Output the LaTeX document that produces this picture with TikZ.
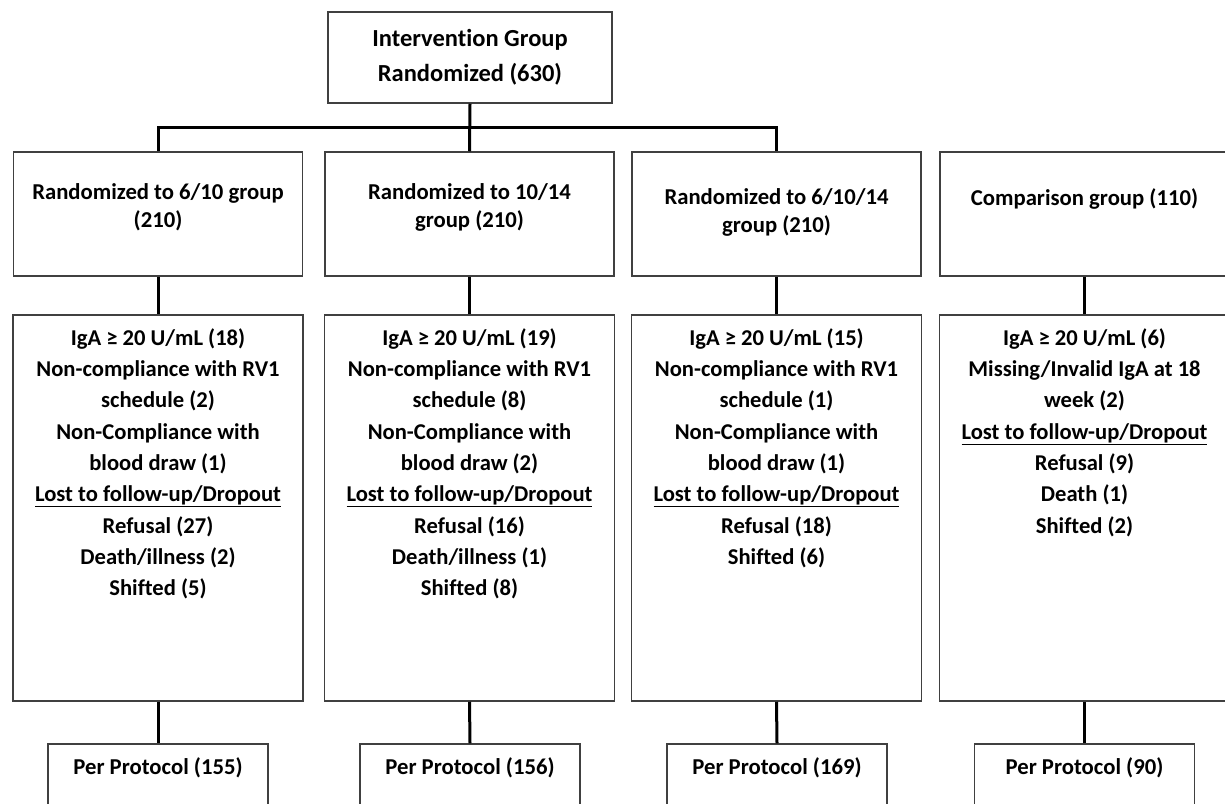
\documentclass[tikz,border=0pt]{standalone}
\usepackage{fontspec}
\setmainfont{Carlito}[Ligatures=NoCommon]
\usepackage{tikz}
\usetikzlibrary{positioning,calc}

\begin{document}
\begin{tikzpicture}[x=1pt, y=-1pt,
    box/.style={draw=black!75, line width=1.5pt, inner sep=0pt},
    head/.style={box, minimum width=289pt, minimum height=124pt},
    detail/.style={box, minimum width=290pt, minimum height=386pt},
    proto/.style={box, minimum width=220pt, minimum height=80pt},
    txt/.style={font=\fontsize{22.7}{28}\selectfont\bfseries, align=center, inner sep=0pt},
    listtxt/.style={font=\fontsize{22.6}{31.3}\selectfont\bfseries, align=center, inner sep=0pt},
    link/.style={line width=3pt, black}
]
\useasboundingbox (0,0) rectangle (1225,803);
\clip (0,0) rectangle (1225,803);
% top
\node[box, minimum width=284pt, minimum height=91pt, font=\fontsize{24.5}{35}\selectfont\bfseries, align=center] (top) at (470,57.5) {Intervention Group\\Randomized (630)};
% randomised arms
\node[head] (r1) at (158,214) {};
\node[head] (r2) at (469.5,214) {};
\node[head] (r3) at (776.5,214) {};
\node[head] (r4) at (1084.5,214) {};
\node[txt, below=32pt of r1.north] (r1t) {Randomized to 6/10 group\\(210)};
\node[txt, below=32pt of r2.north] (r2t) {Randomized to 10/14\\group (210)};
\node[txt, below=37pt of r3.north] (r3t) {Randomized to 6/10/14\\group (210)};
\node[txt, below=37pt of r4.north] (r4t) {Comparison group (110)};
% exclusions
\node[detail] (d1) at (158,508) {};
\node[detail] (d2) at (469.5,508) {};
\node[detail] (d3) at (776.5,508) {};
\node[detail] (d4) at (1084.5,508) {};
\node[listtxt, below=14pt of d1.north] (d1t) {IgA ≥ 20 U/mL (18)\\Non-compliance with RV1\\schedule (2)\\Non-Compliance with\\blood draw (1)\\\underline{Lost to follow-up/Dropout}\\Refusal (27)\\Death/illness (2)\\Shifted (5)};
\node[listtxt, below=14pt of d2.north] (d2t) {IgA ≥ 20 U/mL (19)\\Non-compliance with RV1\\schedule (8)\\Non-Compliance with\\blood draw (2)\\\underline{Lost to follow-up/Dropout}\\Refusal (16)\\Death/illness (1)\\Shifted (8)};
\node[listtxt, below=14pt of d3.north] (d3t) {IgA ≥ 20 U/mL (15)\\Non-compliance with RV1\\schedule (1)\\Non-Compliance with\\blood draw (1)\\\underline{Lost to follow-up/Dropout}\\Refusal (18)\\Shifted (6)};
\node[listtxt, below=14pt of d4.north] (d4t) {IgA ≥ 20 U/mL (6)\\Missing/Invalid IgA at 18\\week (2)\\\underline{Lost to follow-up/Dropout}\\Refusal (9)\\Death (1)\\Shifted (2)};
% per protocol
\node[proto] (p1) at (158,784) {};
\node[proto] (p2) at (470,784) {};
\node[proto] (p3) at (777,784) {};
\node[proto] (p4) at (1084.5,784) {};
\node[txt, below=14pt of p1.north] (p1t) {Per Protocol (155)};
\node[txt, below=14pt of p2.north] (p2t) {Per Protocol (156)};
\node[txt, below=14pt of p3.north] (p3t) {Per Protocol (169)};
\node[txt, below=14pt of p4.north] (p4t) {Per Protocol (90)};
% connectors
\coordinate (split) at ($(top.south)!0.5!(r2.north)$);
\draw[link] (top.south) -- (r2.north);
\draw[link] (r1.north) |- (split) -| (r3.north);
\foreach \i in {1,...,4} {
  \draw[link] (r\i.south) -- (d\i.north);
  \draw[link] (d\i.south) -- (p\i.north);
}
\end{tikzpicture}
\end{document}
